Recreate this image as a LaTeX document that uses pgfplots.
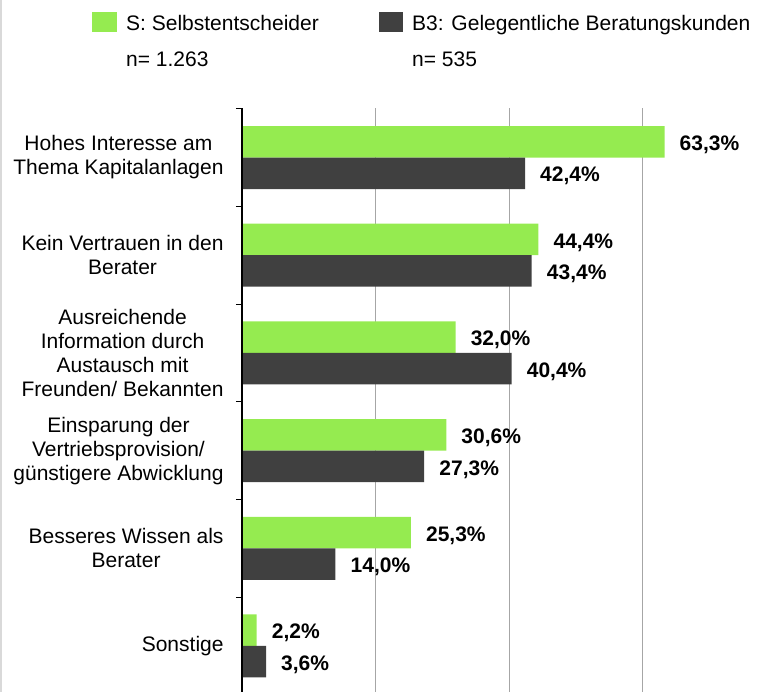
\documentclass[border=0pt]{standalone}
\usepackage{fontspec}
\setmainfont{Liberation Sans}
\usepackage{pgfplots}
\pgfplotsset{compat=1.18}
\definecolor{sgreen}{HTML}{95EB50}
\definecolor{bdark}{HTML}{404040}
\definecolor{gridgray}{HTML}{A6A6A6}
\begin{document}
\begin{tikzpicture}
\useasboundingbox (-242pt,0pt) rectangle (516pt,692pt);
\begin{axis}[
  at={(0pt,0pt)}, anchor=south west,
  scale only axis,
  width=516pt, height=584pt,
  xmin=0, xmax=77.3,
  ymin=-0.471, ymax=5.507,
  xbar, bar width=31.5pt,
  axis line style={draw=none},
  xtick={20,40,60}, xticklabels={},
  xmajorgrids, major grid style={gridgray, line width=1pt},
  major x tick style={draw=none},
  ytick={0,1,2,3,4,5},
  yticklabels={{Sonstige},{Besseres Wissen als\\Berater},{Einsparung der\\Vertriebsprovision/\\günstigere Abwicklung},{Ausreichende\\Information durch\\Austausch mit\\Freunden/ Bekannten},{Kein Vertrauen in den\\Berater},{Hohes Interesse am\\Thema Kapitalanlagen}},
  major y tick style={draw=none},
  minor ytick={0.5,1.5,2.5,3.5,4.5,5.5},
  minor y tick style={black, line width=0.8pt},
  minor tick length=6pt,
  tick align=outside, ytick pos=left, xtick pos=bottom,
  yticklabel style={align=center, anchor=east, inner sep=0pt, xshift=-14pt,
    font=\fontsize{21}{24}\selectfont},
  /pgf/number format/assume math mode=true,
  nodes near coords={\pgfmathprintnumber[fixed, fixed zerofill, precision=1, use comma]{\pgfplotspointmeta}\%},
  every node near coord/.append style={font=\fontsize{21}{24}\selectfont\bfseries, anchor=west, inner sep=0pt, xshift=15pt, yshift=-3pt, black},
  clip=false,
]
\addplot[fill=sgreen, draw=none, bar shift=15.75pt] coordinates {
  (63.3,5) (44.4,4) (32.0,3) (30.6,2) (25.3,1) (2.2,0)};
\addplot[fill=bdark, draw=none, bar shift=-15.75pt] coordinates {
  (42.4,5) (43.4,4) (40.4,3) (27.3,2) (14.0,1) (3.6,0)};
\draw[black, line width=1.2pt] (rel axis cs:0,0) -- (rel axis cs:0,1);
\end{axis}
% frame edge
\draw[black!15, line width=2pt] (-241pt,0pt) -- (-241pt,692pt);
% legend
\fill[sgreen] (-150pt,660pt) rectangle (-125pt,680pt);
\node[anchor=base west, inner sep=0pt, font=\fontsize{21}{24}\selectfont] at (-116pt,661pt) {S: Selbstentscheider};
\node[anchor=base west, inner sep=0pt, font=\fontsize{21}{24}\selectfont] at (-116pt,625pt) {n= 1.263};
\fill[bdark] (137pt,660pt) rectangle (161pt,680pt);
\node[anchor=base west, inner sep=0pt, font=\fontsize{21}{24}\selectfont] at (170pt,661pt) {B3: Gelegentliche Beratungskunden};
\node[anchor=base west, inner sep=0pt, font=\fontsize{21}{24}\selectfont] at (170pt,625pt) {n= 535};
\end{tikzpicture}
\end{document}
